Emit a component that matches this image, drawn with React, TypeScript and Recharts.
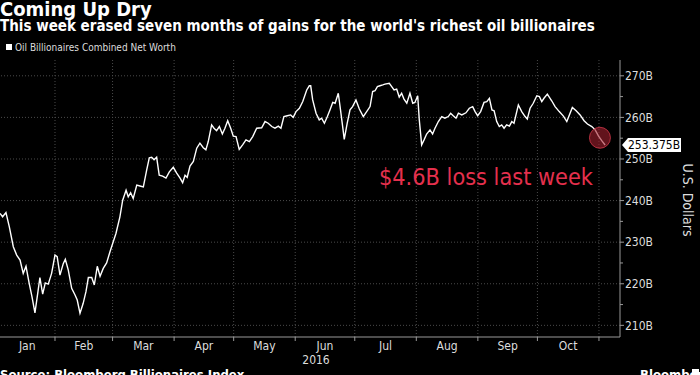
import { LineChart, Line, XAxis, YAxis, ReferenceLine, ReferenceDot } from 'recharts'

const FONT = '"DejaVu Sans Condensed", "DejaVu Sans", sans-serif'

// day of year 2016 (0 = Jan 1)
const DAYS = [
  3.3, 4.6, 6.3, 8.0, 10.0, 11.7, 13.4, 15.0, 16.4, 18.0, 19.4, 20.9, 22.3, 23.4, 24.8, 26.1, 27.6, 29.3, 31.0, 32.1,
  33.5, 35.2, 36.2, 37.7, 39.4, 41.1, 42.2, 43.6, 45.2, 46.6, 47.8, 49.5, 50.8, 52.3, 53.7, 55.3, 57.0, 58.7, 61.7, 63.7,
  65.1, 66.8, 67.9, 69.1, 70.4, 72.2, 73.8, 75.5, 77.2, 78.5, 79.7, 80.9, 82.2, 83.5, 85.2, 86.9, 88.6, 90.6, 92.3, 94.0,
  95.3, 96.5, 97.6, 99.0, 100.7, 102.4, 104.0, 105.7, 107.0, 108.2, 109.9, 111.1, 112.4, 113.8, 115.3, 116.6, 118.0, 119.5, 120.8, 122.2,
  123.8, 125.5, 127.2, 128.9, 130.6, 132.6, 135.1, 136.8, 138.4, 140.2, 141.8, 143.5, 144.8, 146.3, 148.0, 149.7, 151.0, 152.4, 154.1, 155.8,
  157.8, 159.1, 159.8, 160.8, 162.5, 164.1, 165.3, 166.7, 168.2, 169.5, 170.9, 172.1, 173.7, 174.6, 175.9, 176.7, 178.2, 179.6, 180.9, 182.6,
  184.3, 186.3, 188.0, 189.7, 191.0, 192.2, 193.4, 194.7, 196.1, 197.2, 199.4, 200.6, 201.8, 203.1, 204.4, 205.6, 206.8, 208.2, 209.8, 211.2,
  212.3, 213.7, 214.5, 215.7, 216.9, 218.2, 219.9, 221.2, 222.4, 224.1, 225.8, 227.4, 229.1, 230.3, 231.6, 233.0, 234.2, 235.9, 238.0, 239.7,
  241.4, 242.6, 243.9, 245.4, 247.1, 248.5, 249.8, 251.1, 252.2, 253.5, 254.8, 256.0, 257.2, 258.5, 259.9, 261.1, 262.2, 264.4, 266.1, 267.8,
  268.9, 270.3, 271.9, 273.7, 275.0, 276.2, 277.3, 279.0, 281.2, 282.9, 285.0, 287.1, 288.8, 290.1, 291.6, 293.5, 295.5, 297.5, 299.2, 301.4,
  303.1, 304.8, 306.4, 308.1,
]

// billions of US dollars
const NET_WORTH = [
  236.9, 236.1, 237.1, 233.7, 228.9, 226.9, 225.7, 222.5, 224.2, 220.1, 216.9, 213.0, 217.7, 221.5, 217.5, 220.2, 219.9, 222.5, 226.9, 226.5,
  222.1, 224.9, 225.9, 223.3, 218.9, 217.3, 216.1, 212.9, 215.3, 218.1, 221.5, 221.5, 219.7, 224.2, 221.8, 223.7, 225.0, 227.7, 232.1, 236.1,
  240.1, 242.5, 240.9, 241.9, 240.5, 243.7, 243.5, 243.3, 247.4, 250.3, 250.4, 249.8, 250.4, 246.1, 245.9, 245.4, 246.9, 248.0, 246.6, 245.4,
  244.3, 246.1, 245.6, 248.3, 249.4, 252.6, 253.8, 252.7, 252.2, 254.2, 258.2, 257.4, 256.8, 257.8, 256.0, 257.4, 259.2, 257.4, 255.5, 255.4,
  252.3, 253.4, 254.6, 254.2, 255.4, 257.4, 257.5, 259.0, 258.6, 257.8, 257.4, 257.9, 257.4, 260.2, 260.4, 260.6, 260.0, 261.4, 262.2, 263.8,
  266.6, 267.6, 267.6, 264.2, 261.0, 259.4, 259.8, 258.6, 260.2, 261.8, 263.6, 263.4, 265.8, 262.6, 257.8, 254.7, 258.6, 261.8, 262.6, 264.2,
  262.0, 260.2, 261.4, 262.6, 266.2, 266.4, 267.4, 267.6, 267.8, 268.0, 268.2, 267.4, 266.6, 266.8, 264.9, 265.8, 264.4, 263.4, 265.8, 263.4,
  263.6, 265.2, 259.4, 253.4, 254.6, 256.0, 257.0, 256.0, 257.4, 259.0, 260.2, 259.8, 260.2, 261.0, 260.4, 259.8, 261.0, 260.6, 261.1, 262.2,
  262.6, 261.4, 260.4, 261.4, 263.6, 263.8, 264.6, 261.8, 261.6, 259.0, 257.8, 258.2, 257.4, 258.2, 257.9, 259.0, 258.6, 263.0, 261.4, 260.2,
  259.6, 262.2, 263.4, 265.2, 265.0, 263.8, 264.6, 265.6, 264.0, 262.6, 261.4, 260.3, 259.0, 260.6, 262.4, 261.6, 260.6, 259.2, 258.4, 257.8,
  257.0, 255.5, 254.4, 253.375,
]

const MONTH_STARTS = [31, 60, 91, 121, 152, 182, 213, 244, 274, 305]
const MONTH_LABELS = ['Jan', 'Feb', 'Mar', 'Apr', 'May', 'Jun', 'Jul', 'Aug', 'Sep', 'Oct']
const MONTH_MIDS = [17, 45.5, 75.5, 106, 136.5, 167, 197.5, 228.5, 259, 289.5]
const Y_TICKS = [210, 220, 230, 240, 250, 260, 270]
const Y_MINOR = [215, 225, 235, 245, 255, 265]
const LAST_VALUE = 253.375

const data = DAYS.map((d, i) => ({ day: d, value: NET_WORTH[i] }))

const MonthTick = (props: any) => {
  const { x, y, payload } = props
  const v = payload.value
  if (MONTH_STARTS.includes(v)) {
    return <line x1={x} x2={x} y1={y - 8} y2={y - 4} stroke="#999" />
  }
  const idx = MONTH_MIDS.indexOf(v)
  return (
    <text x={x} y={y + 5} fill="#ddd" fontSize={12} fontFamily={FONT} textAnchor="middle">
      {MONTH_LABELS[idx]}
    </text>
  )
}

const ValueTick = (props: any) => {
  const { x, y, payload } = props
  const v = payload.value
  if (Y_MINOR.includes(v)) {
    return <line x1={x - 8} x2={x - 5} y1={y} y2={y} stroke="#999" />
  }
  return (
    <g>
      <line x1={x - 8} x2={x - 4} y1={y} y2={y} stroke="#999" />
      <text x={x - 3} y={y} dy="0.36em" fill="#ddd" fontSize={12} fontFamily={FONT}>
        {v}B
      </text>
    </g>
  )
}

const LastValueTag = (props: any) => {
  const { cx, cy } = props
  return (
    <g>
      <polygon
        points={`${cx + 2},${cy} ${cx + 8},${cy - 7} ${cx + 61},${cy - 7} ${cx + 61},${cy + 7} ${cx + 8},${cy + 7}`}
        fill="#fff"
      />
      <text x={cx + 8} y={cy} dy="0.36em" fill="#000" fontSize={12} fontFamily={FONT}>
        {LAST_VALUE}B
      </text>
    </g>
  )
}

export default function App() {
  return (
    <div style={{ position: 'relative', width: 700, height: 375, background: '#000', overflow: 'hidden' }}>
      <style>{`body{margin:0}`}</style>
      <LineChart width={700} height={375} data={data} margin={{ top: 60, right: 0, bottom: 0, left: 0 }}>
        {Y_TICKS.map(t => (
          <ReferenceLine key={'h' + t} y={t} stroke="#4a4a4a" strokeDasharray="1 2" />
        ))}
        {MONTH_STARTS.map(t => (
          <ReferenceLine key={'v' + t} x={t} stroke="#4a4a4a" strokeDasharray="1 2" />
        ))}
        <XAxis
          dataKey="day"
          type="number"
          domain={[3.3, 315.6]}
          allowDataOverflow
          ticks={[...MONTH_STARTS, ...MONTH_MIDS]}
          interval={0}
          tickLine={false}
          axisLine={{ stroke: '#999' }}
          height={38}
          tick={<MonthTick />}
        />
        <YAxis
          orientation="right"
          type="number"
          domain={[207.2, 273.8]}
          allowDataOverflow
          ticks={[...Y_TICKS, ...Y_MINOR].sort((a, b) => a - b)}
          interval={0}
          tickLine={false}
          axisLine={{ stroke: '#999' }}
          width={80}
          tick={<ValueTick />}
        />
        <ReferenceDot
          x={305.5}
          y={255.1}
          r={10.5}
          fill="#a3202e"
          fillOpacity={0.6}
          stroke="#d0384a"
          strokeOpacity={0.8}
          ifOverflow="visible"
        />
        <Line
          dataKey="value"
          stroke="#fff"
          strokeWidth={1.4}
          dot={false}
          type="linear"
          isAnimationActive={false}
        />
        <ReferenceDot x={315.6} y={LAST_VALUE} ifOverflow="visible" shape={<LastValueTag />} />
      </LineChart>
      <svg width={700} height={375} style={{ position: 'absolute', left: 0, top: 0, pointerEvents: 'none' }}>
        <text x={0} y={16} fill="#fff" fontSize={20} fontWeight="bold" fontFamily={FONT}>
          Coming Up Dry
        </text>
        <text x={0} y={31} fill="#fff" fontSize={15} fontWeight="bold" fontFamily={FONT}>
          This week erased seven months of gains for the world's richest oil billionaires
        </text>
        <rect x={6} y={44} width={6} height={6} fill="#fff" />
        <text x={15} y={51} fill="#ddd" fontSize={10} fontFamily={FONT}>
          Oil Billionaires Combined Net Worth
        </text>
        <text x={379} y={185} fill="#e5304d" fontSize={23} fontFamily={FONT} textLength={214} lengthAdjust="spacingAndGlyphs">
          $4.6B loss last week
        </text>
        <text x={316} y={364} fill="#ddd" fontSize={12} fontFamily={FONT} textAnchor="middle">
          2016
        </text>
        <text
          x={688}
          y={200}
          fill="#ddd"
          fontSize={14}
          fontFamily={FONT}
          textAnchor="middle"
          transform="rotate(90 688 200)"
          dy="0.35em"
        >
          U.S. Dollars
        </text>
        <text x={0} y={379} fill="#fff" fontSize={13} fontWeight="bold" fontFamily={FONT}>
          Source: Bloomberg Billionaires Index
        </text>
        <text x={640} y={379} fill="#fff" fontSize={13} fontWeight="bold" fontFamily={FONT}>
          Bloomberg
        </text>
        <rect x={692} y={369} width={7} height={8} fill="#fff" />
      </svg>
    </div>
  )
}
